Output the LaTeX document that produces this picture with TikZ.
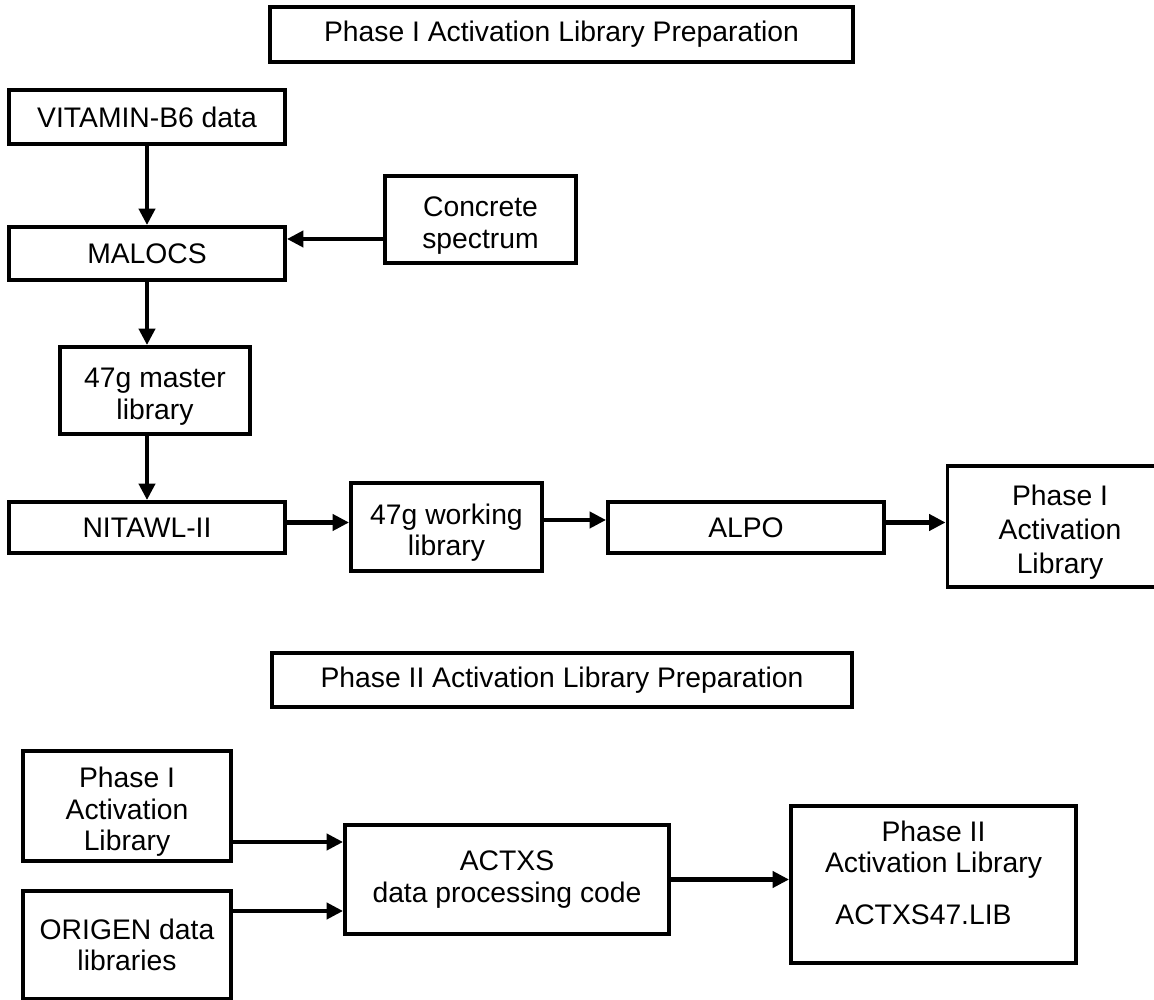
\documentclass[tikz,border=0pt]{standalone}
\usepackage{fontspec}
\setmainfont{Liberation Sans}
\usetikzlibrary{arrows.meta}

\newcommand{\lowstrut}{\rule{0pt}{0.64cm}}

\begin{document}
\begin{tikzpicture}[
    box/.style={draw, line width=2.2pt, align=center, inner sep=0pt},
    arr/.style={line width=2.4pt, -{Triangle[length=0.33cm,width=0.32cm]}},
    font=\fontsize{16.1}{18}\selectfont]
  \useasboundingbox (0,0) rectangle (23.08,20);

  % phase I
  \node[box, minimum width=11.66cm, minimum height=1.1cm] (title1) at (11.23,19.31) {Phase I Activation Library Preparation};
  \node[box, minimum width=5.52cm, minimum height=1.08cm] (vit) at (2.94,17.66) {VITAMIN-B6 data};
  \node[box, minimum width=3.82cm, minimum height=1.74cm] (concrete) at (9.61,15.61) {\lowstrut Concrete\\spectrum};
  \node[box, minimum width=5.52cm, minimum height=1.06cm] (malocs) at (2.94,14.93) {MALOCS};
  \node[box, minimum width=3.8cm, minimum height=1.74cm] (master) at (3.10,12.19) {\lowstrut 47g master\\library};
  \node[box, minimum width=5.52cm, minimum height=1.02cm] (nitawl) at (2.94,9.45) {NITAWL-II};
  \node[box, minimum width=3.82cm, minimum height=1.76cm] (working) at (8.93,9.46) {\lowstrut 47g working\\library};
  \node[box, minimum width=5.52cm, minimum height=1.02cm] (alpo) at (14.92,9.45) {ALPO};
  \node[box, minimum width=4.5cm, minimum height=2.42cm, font=\fontsize{16.1}{19.1}\selectfont] (phaseone) at (21.2,9.47) {\lowstrut Phase I\\Activation\\Library};

  \draw[arr] (vit.south) -- (malocs.north);
  \draw[arr] ([yshift=-0.39cm]concrete.west) -- ([yshift=-0.39cm]concrete.west -| malocs.east);
  \draw[arr] (malocs.south) -- (malocs.south |- master.north);
  \draw[arr] (malocs.south |- master.south) -- (nitawl.north);
  \draw[arr] ([yshift=1mm]nitawl.east) -- ([yshift=1mm]nitawl.east -| working.west);
  \draw[arr] ([yshift=1.4mm]working.east) -- ([yshift=1.4mm]working.east -| alpo.west);
  \draw[arr] ([yshift=1mm]alpo.east) -- ([yshift=1mm]alpo.east -| phaseone.west);

  % phase II
  \node[box, minimum width=11.6cm, minimum height=1.08cm] (title2) at (11.24,6.4) {Phase II Activation Library Preparation};
  \node[box, minimum width=4.16cm, minimum height=2.2cm] (inlib) at (2.54,3.88) {\lowstrut Phase I\\Activation\\Library};
  \node[box, minimum width=4.16cm, minimum height=2.16cm] (origen) at (2.54,1.1) {ORIGEN data\\libraries};
  \node[box, minimum width=6.48cm, minimum height=2.18cm] (actxs) at (10.14,2.41) {ACTXS\\data processing code};
  \node[box, minimum width=5.7cm, minimum height=3.14cm] (phasetwo) at (18.67,2.31)
    {Phase II\\Activation Library\\[0.4cm]ACTXS47.LIB\hspace*{0.4cm}\rule[-0.48cm]{0pt}{0.48cm}};

  \draw[arr] ([yshift=-0.72cm]inlib.east) -- ([yshift=-0.72cm]inlib.east -| actxs.west);
  \draw[arr] ([yshift=0.68cm]origen.east) -- ([yshift=0.68cm]origen.east -| actxs.west);
  \draw[arr] (actxs.east) -- (actxs.east -| phasetwo.west);
\end{tikzpicture}
\end{document}
